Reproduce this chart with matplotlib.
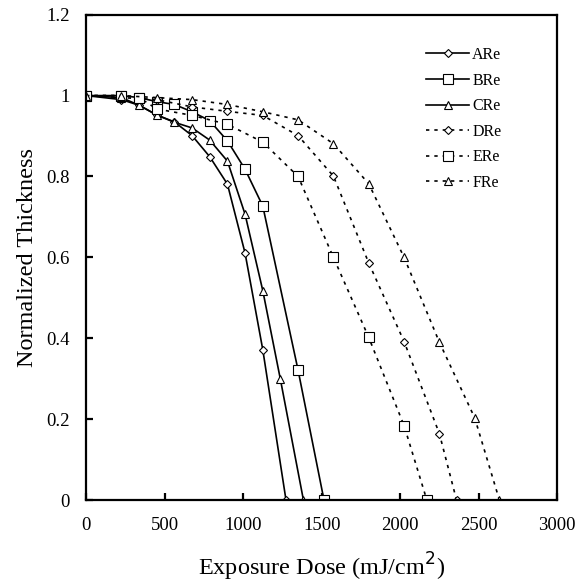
import matplotlib
matplotlib.use("Agg")
from matplotlib import pyplot as plt

plt.rcParams['font.family'] = ['Liberation Serif', 'DejaVu Serif']

# exposure dose (mJ/cm2) and normalized thickness for each resist
dose_A = [0, 225, 338, 450, 562, 675, 787, 900, 1012, 1125, 1273]
thick_A = [1.0, 0.99, 0.976, 0.952, 0.935, 0.901, 0.849, 0.781, 0.611, 0.372, 0.0]

dose_B = [0, 225, 338, 450, 562, 675, 787, 900, 1012, 1125, 1350, 1515]
thick_B = [1.0, 1.0, 0.995, 0.985, 0.978, 0.96, 0.938, 0.888, 0.818, 0.727, 0.321, 0.0]

dose_C = [0, 225, 338, 450, 562, 675, 787, 900, 1012, 1125, 1237, 1384]
thick_C = [1.0, 0.995, 0.976, 0.952, 0.934, 0.92, 0.89, 0.838, 0.707, 0.518, 0.299, 0.0]

dose_D = [0, 225, 450, 675, 900, 1125, 1350, 1575, 1800, 2025, 2250, 2359]
thick_D = [1.0, 0.995, 0.99, 0.972, 0.961, 0.951, 0.901, 0.801, 0.586, 0.392, 0.164, 0.0]

dose_E = [0, 225, 338, 450, 675, 900, 1125, 1350, 1575, 1800, 2025, 2170]
thick_E = [1.0, 1.0, 0.995, 0.967, 0.951, 0.929, 0.885, 0.8, 0.6, 0.402, 0.184, 0.0]

dose_F = [0, 225, 450, 675, 900, 1125, 1350, 1575, 1800, 2025, 2250, 2475, 2632]
thick_F = [1.0, 1.0, 0.995, 0.99, 0.978, 0.96, 0.94, 0.881, 0.782, 0.6, 0.39, 0.203, 0.0]

labels = ['ARe', 'BRe', 'CRe', 'DRe', 'ERe', 'FRe']
x_ticks = [0, 500, 1000, 1500, 2000, 2500, 3000]
y_ticks = [0, 0.2, 0.4, 0.6, 0.8, 1.0, 1.2]
y_tick_labels = ['0', '0.2', '0.4', '0.6', '0.8', '1', '1.2']

fig = plt.figure(figsize=(5.78, 5.87), dpi=100)
ax = fig.add_axes([0.149, 0.148, 0.815, 0.827])

series = [(dose_A, thick_A, 'D', 4), (dose_B, thick_B, 's', 6.5), (dose_C, thick_C, '^', 5.5),
          (dose_D, thick_D, 'D', 4), (dose_E, thick_E, 's', 6.5), (dose_F, thick_F, '^', 5.5)]
for i, (x, y, m, ms) in enumerate(series):
    ls = '-' if i < 3 else (0, (2.0, 3.0))
    ax.plot(x, y, color='black', lw=1.2, linestyle=ls, marker=m, markersize=ms,
            markerfacecolor='white', markeredgecolor='black', markeredgewidth=0.8,
            label=labels[i])

ax.set_xlim(0, 3000)
ax.set_ylim(0, 1.2)
ax.set_xticks(x_ticks)
ax.set_yticks(y_ticks)
ax.set_yticklabels(y_tick_labels)
ax.tick_params(direction='in', length=5, width=1.6, labelsize=13.5, pad=12)
for s in ax.spines.values():
    s.set_linewidth(1.6)

ax.set_xlabel('Exposure Dose (mJ/cm$^2$)', fontsize=17.5, labelpad=12)
ax.set_ylabel('Normalized Thickness', fontsize=17.5, labelpad=6)

ax.legend(loc='upper left', frameon=False, fontsize=11.5, handlelength=2.7,
          handletextpad=0.2, labelspacing=0.6, borderpad=0.4,
          bbox_to_anchor=(0.691, 0.963))

fig.savefig('out.png', dpi=100)
